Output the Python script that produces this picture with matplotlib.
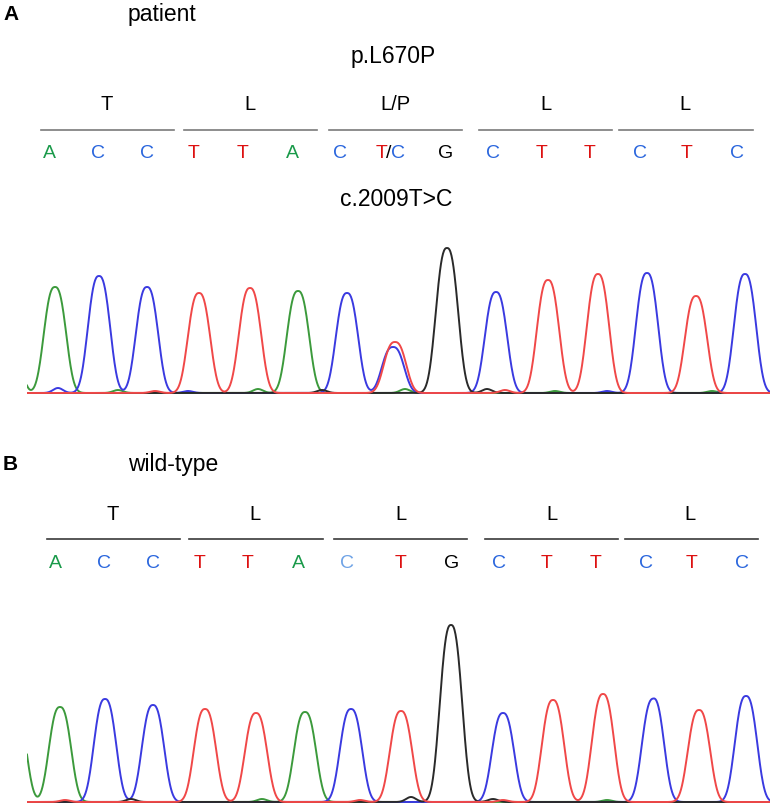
import numpy as np
import matplotlib
matplotlib.use("Agg")
import matplotlib.pyplot as plt

plt.rcParams['font.family'] = ['Liberation Sans', 'DejaVu Sans']

W, H = 770, 806

# ---------------- data ----------------
amino_A = ["T", "L", "L/P", "L", "L"]
amino_B = ["T", "L", "L", "L", "L"]
bases_A = ["A", "C", "C", "T", "T", "A", "C", "T/C", "G", "C", "T", "T", "C", "T", "C"]
bases_B = ["A", "C", "C", "T", "T", "A", "C", "T", "G", "C", "T", "T", "C", "T", "C"]

# called peaks (scan position, base channel, height in arbitrary fluorescence units)
peak_pos_A = [-20, 28, 72, 120, 172, 223, 271, 320, 368, 366, 420, 469, 521, 571, 620, 669, 718]
peak_base_A = ["A", "A", "C", "C", "T", "T", "A", "C", "T", "C", "G", "C", "T", "T", "C", "T", "C"]
peak_h_A = [100, 106, 117, 106, 100, 105, 102, 100, 51, 46, 145, 101, 113, 119, 120, 97, 119]

peak_pos_B = [-12, 33, 78, 126, 178, 229, 278, 324, 374, 424, 476, 526, 576, 626, 672, 719]
peak_base_B = ["A", "A", "C", "C", "T", "T", "A", "C", "T", "G", "C", "T", "T", "C", "T", "C"]
peak_h_B = [95, 95, 103, 97, 93, 89, 90, 93, 91, 177, 89, 102, 108, 102, 92, 106]

# minor background bumps
minor_pos_A = [31, 91, 128, 161, 231, 295, 378, 460, 478, 528, 580, 685]
minor_base_A = ["C", "A", "T", "C", "A", "G", "A", "G", "T", "A", "C", "A"]
minor_h_A = [5, 3, 2, 2, 4, 3, 4, 4, 3, 2, 2, 2]

minor_pos_B = [38, 104, 235, 333, 384, 466, 476, 580, 630]
minor_base_B = ["T", "G", "A", "T", "G", "G", "T", "A", "C"]
minor_h_B = [2, 3, 3, 2, 5, 3, 2, 2, 2]

trace_colors = {"A": "#3c9a3c", "C": "#3a3ae0", "G": "#2a2a2a", "T": "#f04848"}
letter_colors = {"A": "#1a9a4a", "C": "#2a66dd", "G": "#000000", "T": "#dd1111"}
light_blue = "#6fa3e6"

# peak shape parameters (generalised Gaussian)
SCALE = 13.8
POWER = 2.6

fig = plt.figure(figsize=(W / 100, H / 100), dpi=100)

# overlay axes for annotations in pixel coordinates
ov = fig.add_axes([0, 0, 1, 1])
ov.set_xlim(0, W)
ov.set_ylim(H, 0)
ov.axis("off")


def draw_trace(rect_px, ylim, pos, base, h, mpos, mbase, mh):
    x0, ytop, x1, ybot = rect_px
    ax = fig.add_axes([x0 / W, 1 - ybot / H, (x1 - x0) / W, (ybot - ytop) / H])
    scans = np.arange(0, x1 - x0 + 0.5, 0.5)
    order = ["A", "C", "G", "T"]
    for ch in order:
        y = np.zeros_like(scans)
        for p, b, hh in zip(pos, base, h):
            if b == ch:
                y += hh * np.exp(-np.abs((scans - p) / SCALE) ** POWER)
        for p, b, hh in zip(mpos, mbase, mh):
            if b == ch:
                y += hh * np.exp(-np.abs((scans - p) / 7.0) ** 2)
        ax.plot(scans, y, color=trace_colors[ch], lw=1.4, solid_joinstyle="miter")
    ax.set_xlim(0, x1 - x0)
    ax.set_ylim(*ylim)
    ax.axis("off")
    return ax


TITLE_FS = 16.5
AA_FS = 14.5
BASE_FS = 14

# ---------------- panel A ----------------
ov.text(3, 15, "A", fontsize=15, fontweight="bold", ha="left", va="center")
ov.text(162, 15, "patient", fontsize=TITLE_FS, ha="center", va="center")
ov.text(393, 56, "p.L670P", fontsize=TITLE_FS, ha="center", va="center")
ov.text(396, 200, "c.2009T>C", fontsize=TITLE_FS, ha="center", va="center")

aa_x_A = [107, 250, 395, 546, 685]
seg_A = [(41, 174), (184, 317), (329, 462), (479, 612), (619, 753)]
base_x_A = [49, 98, 147, 194, 243, 292, 340, 391, 446, 493, 542, 590, 640, 687, 737]
for lab, x in zip(amino_A, aa_x_A):
    ov.text(x, 105, lab, fontsize=AA_FS, ha="center", va="center")
for a, b in seg_A:
    ov.plot([a, b], [130, 130], color="#7a7a7a", lw=1.2)
for lab, x in zip(bases_A, base_x_A):
    if lab == "T/C":
        ov.text(x - 2, 153, "/", fontsize=BASE_FS, ha="center", va="center", color="black")
        ov.text(x - 4, 153, "T", fontsize=BASE_FS, ha="right", va="center", color=letter_colors["T"])
        ov.text(x, 153, "C", fontsize=BASE_FS, ha="left", va="center", color=letter_colors["C"])
    else:
        ov.text(x, 153, lab, fontsize=BASE_FS, ha="center", va="center", color=letter_colors[lab])

draw_trace((27, 235, 770, 396), (-3, 158), peak_pos_A, peak_base_A, peak_h_A,
           minor_pos_A, minor_base_A, minor_h_A)

# ---------------- panel B ----------------
ov.text(3, 465, "B", fontsize=15, fontweight="bold", ha="left", va="center")
ov.text(173, 465, "wild-type", fontsize=TITLE_FS, ha="center", va="center")

aa_x_B = [113, 255, 401, 552, 690]
seg_B = [(47, 180), (189, 323), (334, 467), (485, 618), (625, 758)]
base_x_B = [55, 104, 153, 200, 248, 298, 347, 401, 452, 499, 547, 596, 646, 692, 742]
for lab, x in zip(amino_B, aa_x_B):
    ov.text(x, 515, lab, fontsize=AA_FS, ha="center", va="center")
for a, b in seg_B:
    ov.plot([a, b], [539, 539], color="#3a3a3a", lw=1.2)
for i, (lab, x) in enumerate(zip(bases_B, base_x_B)):
    col = light_blue if i == 6 else letter_colors[lab]
    ov.text(x, 563, lab, fontsize=BASE_FS, ha="center", va="center", color=col)

draw_trace((27, 600, 770, 806), (-4, 202), peak_pos_B, peak_base_B, peak_h_B,
           minor_pos_B, minor_base_B, minor_h_B)

fig.savefig("out.png", dpi=100)
